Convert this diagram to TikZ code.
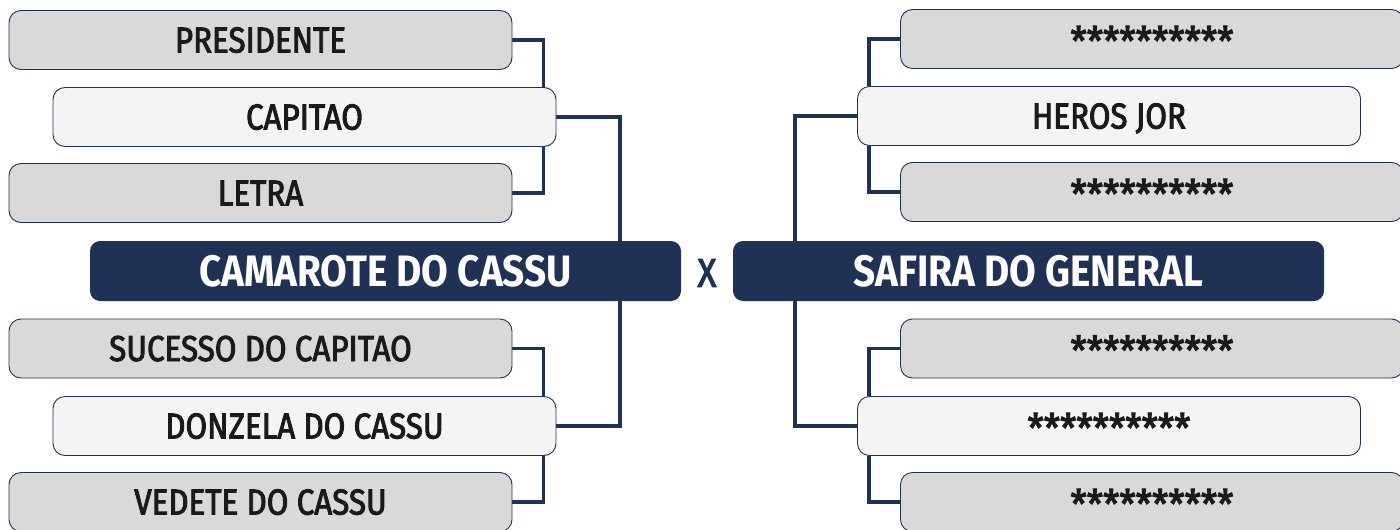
\documentclass[tikz,border=0pt]{standalone}
\usepackage{fontspec}
\setmainfont{Fira Sans}[FakeStretch=0.88]
\newfontfamily\medfont{Fira Sans}[FakeStretch=0.87, FakeBold=2.6]
\newfontfamily\starfont{Fira Sans}[FakeStretch=0.92, FakeBold=2.6]
\usetikzlibrary{backgrounds}
\definecolor{navy}{HTML}{1F3154}
\definecolor{boxgray}{HTML}{D9D9D9}
\definecolor{boxlight}{HTML}{F4F4F4}
\definecolor{txt}{HTML}{1A1A1A}
\tikzset{
  entry/.style={draw=navy, line width=0.9pt, rounded corners=12pt, minimum width=503pt, minimum height=59pt, inner sep=0pt, text=txt, font=\medfont\fontsize{36}{38}\selectfont, text height=25pt, text depth=0pt},
  graybox/.style={entry, fill=boxgray},
  lightbox/.style={entry, fill=boxlight},
  stars/.style={font=\starfont\fontsize{40}{40}\selectfont, text height=33pt},
  teambox/.style={fill=navy, rounded corners=10pt, minimum width=591pt, minimum height=60pt, inner sep=0pt, text=white, font=\fontsize{44}{46}\selectfont\bfseries},
  conn/.style={draw=navy, line width=3.8pt}
}
\begin{document}
\begin{tikzpicture}[x=1pt,y=-1pt]
\useasboundingbox (0,0) rectangle (1400,530);
\clip (0,0) rectangle (1400,530);
% left side
\node[graybox]  (pres) at (260.5,40)  {PRESIDENTE};
\node[lightbox] (cap)  at (304.5,117) {CAPITAO};
\node[graybox]  (let)  at (260.5,193) {LETRA};
\node[teambox]  (cam)  at (385.5,271) {CAMAROTE DO CASSU};
\node[graybox]  (suc)  at (260.5,348.5) {SUCESSO DO CAPITAO};
\node[lightbox] (don)  at (304.5,426) {DONZELA DO CASSU};
\node[graybox]  (ved)  at (260.5,502) {VEDETE DO CASSU};
% center
\node[text=navy, font=\medfont\fontsize{40}{44}\selectfont] (x) at (707,273) {X};
% right side
\node[graybox, stars]  (s1)   at (1152,39)  {**********};
\node[lightbox] (her)  at (1109,116) {HEROS JOR};
\node[graybox, stars]  (s2)   at (1152,192) {**********};
\node[teambox]  (saf)  at (1028.5,271) {SAFIRA DO GENERAL};
\node[graybox, stars]  (s3)   at (1152,348.5) {**********};
\node[lightbox, stars] (s4)   at (1109,426) {**********};
\node[graybox, stars]  (s5)   at (1152,502) {**********};
\begin{pgfonlayer}{background}
  \draw[conn] (pres.east) -| ([xshift=-13pt]cap.north east);
  \draw[conn] (let.east) -| ([xshift=-13pt]cap.south east);
  \draw[conn] (cap.east) -| ([xshift=-61pt]cam.north east);
  \draw[conn] (suc.east) -| ([xshift=-13pt]don.north east);
  \draw[conn] (ved.east) -| ([xshift=-13pt]don.south east);
  \draw[conn] (don.east) -| ([xshift=-61pt]cam.south east);
  \draw[conn] (s1.west) -| ([xshift=12pt]her.north west);
  \draw[conn] (s2.west) -| ([xshift=12pt]her.south west);
  \draw[conn] (her.west) -| ([xshift=62pt]saf.north west);
  \draw[conn] (s3.west) -| ([xshift=12pt]s4.north west);
  \draw[conn] (s5.west) -| ([xshift=12pt]s4.south west);
  \draw[conn] (s4.west) -| ([xshift=62pt]saf.south west);
\end{pgfonlayer}
\end{tikzpicture}
\end{document}
